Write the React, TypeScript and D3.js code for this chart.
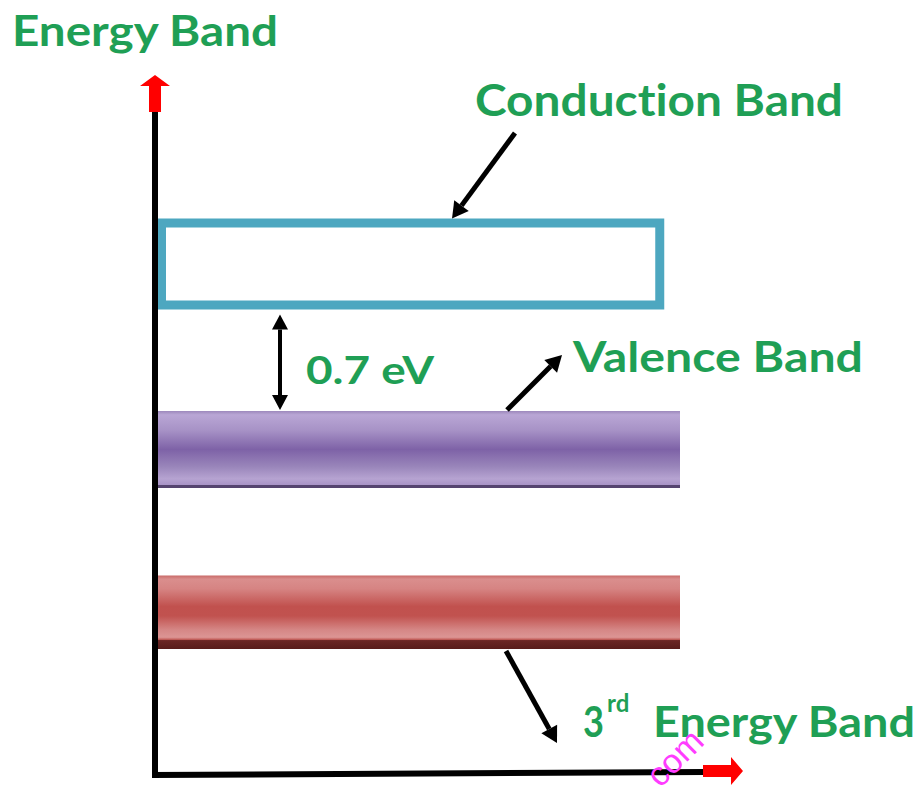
import * as d3 from "d3";

// band data (energy in arbitrary units, horizontal extent in % of axis)
const bandNames = ["Conduction Band", "Valence Band", "3rd Energy Band"];
const bandLow = [66.5, 41, 18];
const bandHigh = [79.5, 52, 28.5];
const bandEnd = [97, 100, 100];
const gapLabel = "0.7 eV";
const axisTitle = "Energy Band";

const W = 921;
const H = 787;
const GREEN = "#1f9f55";
const FONT = "Lato, 'Open Sans', sans-serif";
const noLig = { fontVariantLigatures: "none" };

const x = d3.scaleLinear().domain([0, 100]).range([155, 680]);
const y = d3.scaleLinear().domain([0, 100]).range([775, 75]);

// straight black arrow with a filled head at (x2,y2)
function Arrow({ x1, y1, x2, y2, len = 16, half = 9, sw = 5 }) {
  const a = Math.atan2(y2 - y1, x2 - x1);
  const bx = x2 - len * Math.cos(a);
  const by = y2 - len * Math.sin(a);
  const px = -Math.sin(a) * half;
  const py = Math.cos(a) * half;
  const head = [[x2, y2], [bx + px, by + py], [bx - px, by - py]];
  return (
    <g>
      <line x1={x1} y1={y1} x2={bx} y2={by} stroke="#000" strokeWidth={sw} />
      <path d={d3.line()(head) + "Z"} fill="#000" />
    </g>
  );
}

export default function App() {
  const [cLow, vLow, tLow] = bandLow;
  const [cHigh, vHigh, tHigh] = bandHigh;
  const x0 = x(0);
  const yAxis0 = y(0);
  const sw = 9;

  const gapX = 280;

  return (
    <svg width={W} height={H} style={{ position: "absolute", left: 0, top: 0, background: "#fff" }}>
      <defs>
        <linearGradient id="purple" x1="0" y1="0" x2="0" y2="1">
          <stop offset="0" stopColor="#9c88bc" />
          <stop offset="0.05" stopColor="#b9a6d5" />
          <stop offset="0.25" stopColor="#a792c6" />
          <stop offset="0.5" stopColor="#7e62a7" />
          <stop offset="0.72" stopColor="#9985ba" />
          <stop offset="0.88" stopColor="#b6a3d1" />
          <stop offset="0.955" stopColor="#a994c7" />
          <stop offset="0.965" stopColor="#55446f" />
          <stop offset="1" stopColor="#55446f" />
        </linearGradient>
        <linearGradient id="red" x1="0" y1="0" x2="0" y2="1">
          <stop offset="0" stopColor="#c96a68" />
          <stop offset="0.05" stopColor="#da8e8d" />
          <stop offset="0.18" stopColor="#d68483" />
          <stop offset="0.42" stopColor="#c1514e" />
          <stop offset="0.55" stopColor="#c1524f" />
          <stop offset="0.74" stopColor="#d58786" />
          <stop offset="0.84" stopColor="#dc9594" />
          <stop offset="0.87" stopColor="#c4605c" />
          <stop offset="0.885" stopColor="#6b2624" />
          <stop offset="1" stopColor="#581c1a" />
        </linearGradient>
      </defs>

      {/* title */}
      <text x={12} y={46} fontFamily={FONT} fontWeight="bold" fontSize={42} fill={GREEN} style={noLig}
        textLength={266} lengthAdjust="spacingAndGlyphs">{axisTitle}</text>

      {/* conduction band (outlined box) */}
      <rect x={x0 + 2 + sw / 2} y={y(cHigh) + sw / 2}
        width={x(bandEnd[0]) - x0 - 2 - sw}
        height={y(cLow) - y(cHigh) - sw}
        fill="#fff" stroke="#4da7c0" strokeWidth={sw} />

      {/* valence band */}
      <rect x={x0} y={y(vHigh)} width={x(bandEnd[1]) - x0} height={y(vLow) - y(vHigh)} fill="url(#purple)" />
      {/* 3rd band */}
      <rect x={x0} y={y(tHigh)} width={x(bandEnd[2]) - x0} height={y(tLow) - y(tHigh)} fill="url(#red)" />

      {/* axes */}
      <line x1={x0} y1={112} x2={x0} y2={yAxis0 + 2} stroke="#000" strokeWidth={6} />
      <line x1={x0 - 3} y1={yAxis0} x2={705} y2={yAxis0 - 3} stroke="#000" strokeWidth={6} />
      <path d={`M${x0 - 6},112 V86 H${x0 - 15} L${x0},75 L${x0 + 15},86 H${x0 + 6} V112 Z`} fill="#f00" />
      <path d="M703,765 H731 V757 L743,771 L731,785 V777 H703 Z" fill="#f00" />

      {/* gap arrow */}
      <Arrow x1={gapX} y1={y(vHigh) - 30} x2={gapX} y2={y(cLow) + 5} len={15} half={8} sw={4} />
      <Arrow x1={gapX} y1={y(cLow) + 35} x2={gapX} y2={y(vHigh) - 1} len={15} half={8} sw={4} />
      <text x={306} y={384} fontFamily={FONT} fontWeight="bold" fontSize={38} fill={GREEN}
        textLength={128} lengthAdjust="spacingAndGlyphs">{gapLabel}</text>

      {/* band labels */}
      <Arrow x1={515} y1={133} x2={452} y2={y(cHigh)} />
      <text x={475} y={116} fontFamily={FONT} fontWeight="bold" fontSize={44} fill={GREEN} style={noLig}
        textLength={368} lengthAdjust="spacingAndGlyphs">{bandNames[0]}</text>

      <Arrow x1={507} y1={y(vHigh) - 1} x2={562} y2={355} />
      <text x={573} y={372} fontFamily={FONT} fontWeight="bold" fontSize={42} fill={GREEN} style={noLig}
        textLength={290} lengthAdjust="spacingAndGlyphs">{bandNames[1]}</text>

      <Arrow x1={506} y1={y(tLow) + 2} x2={557} y2={743} />
      <text x={583} y={737} fontFamily={FONT} fontWeight="bold" fontSize={42} fill={GREEN}
        textLength={21} lengthAdjust="spacingAndGlyphs">3</text>
      <text x={607} y={712} fontFamily={FONT} fontWeight="bold" fontSize={24} fill={GREEN}>rd</text>
      <text x={653} y={737} fontFamily={FONT} fontWeight="bold" fontSize={42} fill={GREEN} style={noLig}
        textLength={262} lengthAdjust="spacingAndGlyphs">{bandNames[2].replace("3rd ", "")}</text>

      {/* watermark */}
      <text x={0} y={0} transform="translate(683,766) rotate(-45)" textAnchor="middle"
        fontFamily="'Liberation Sans', Arial, sans-serif" fontSize={34} fill="#ff3cff">com</text>
    </svg>
  );
}
